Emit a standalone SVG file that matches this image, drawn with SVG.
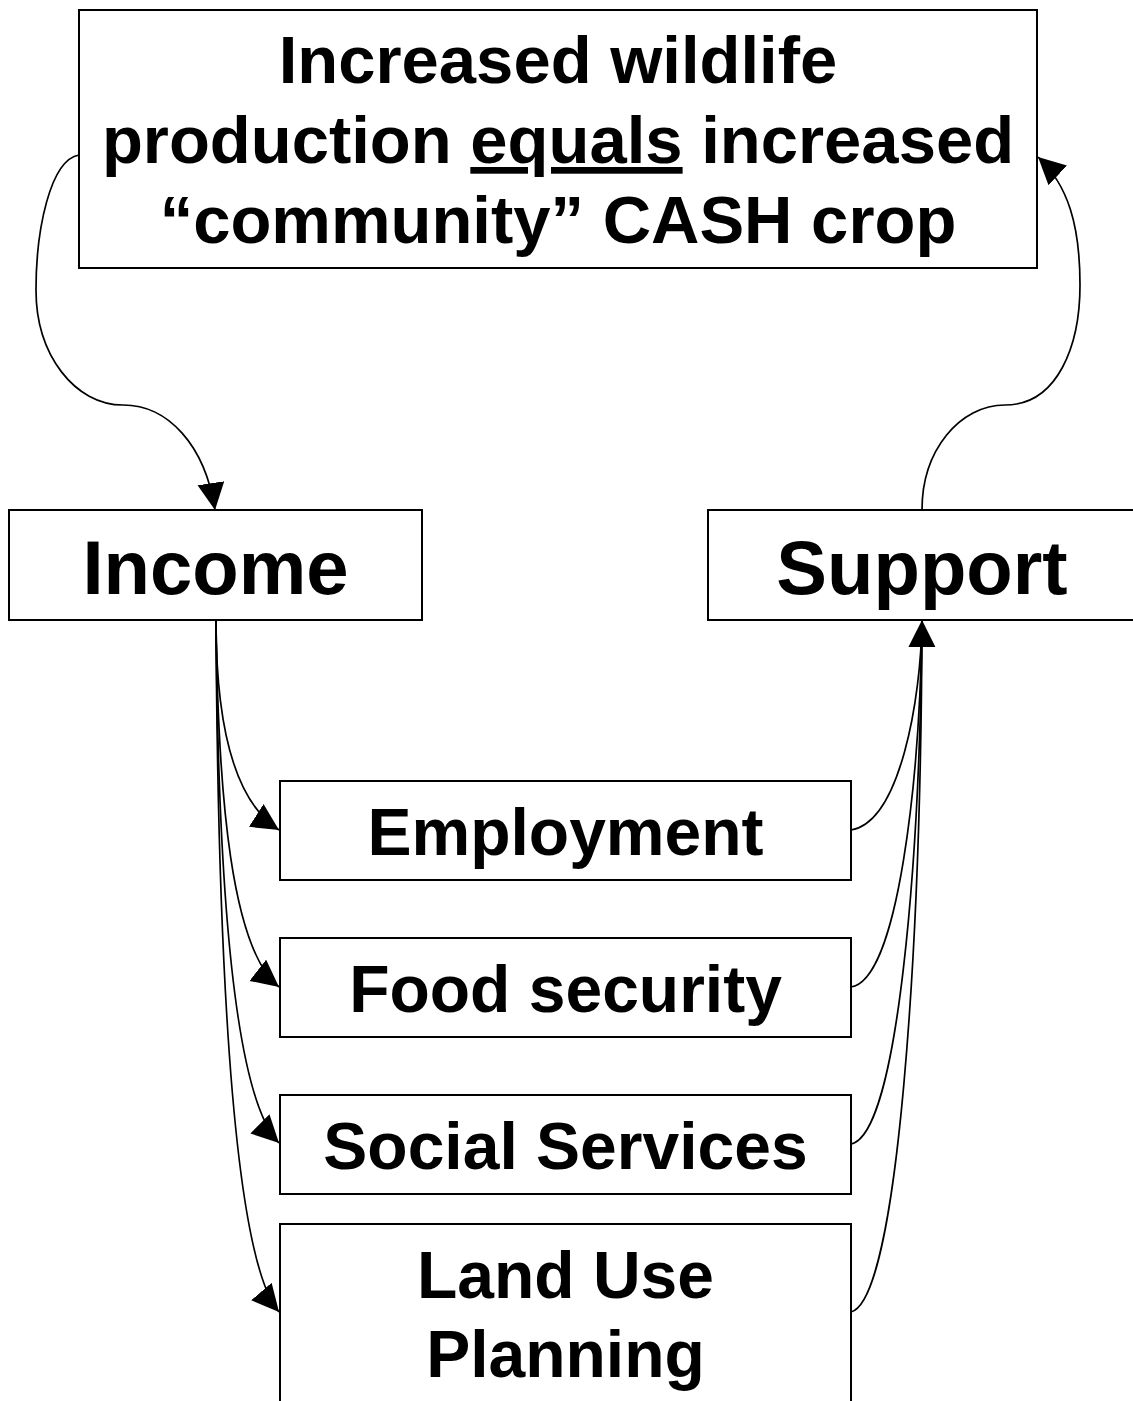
<svg xmlns="http://www.w3.org/2000/svg" width="1133" height="1401" viewBox="0 0 1133 1401">
  <style>
    .box { fill: #ffffff; stroke: #000000; stroke-width: 2; }
    .lbl { font-family: "Liberation Sans", Arial, sans-serif; font-weight: bold; fill: #000000; text-anchor: middle; }
    .t66 { font-size: 66px; }
    .t67 { font-size: 67px; }
    .t76 { font-size: 76px; }
    .conn { fill: none; stroke: #000000; stroke-width: 1.7; }
  </style>
  <defs>
    <marker id="arrow" markerUnits="userSpaceOnUse" markerWidth="28" markerHeight="28" refX="27" refY="13.5" orient="auto">
      <path d="M0,0 L27,13.5 L0,27 z" fill="#000000"/>
    </marker>
  </defs>
  <rect width="1133" height="1401" fill="#ffffff"/>

  <!-- connectors -->
  <g id="connectors">
    <!-- cash crop feeds income -->
    <path class="conn" d="M79,155 C50,160 36,230 36,290 C36,355 75,405 123,405 C168,405 205,445 215,510" marker-end="url(#arrow)"/>
    <!-- support loops back to cash crop -->
    <path class="conn" d="M922,510 C922,450 960,405 1005,405 C1058,405 1080,345 1080,285 C1080,225 1068,185 1038,157" marker-end="url(#arrow)"/>
    <!-- income branches -->
    <path class="conn" d="M216,620 C216,720 232,800 279,830" marker-end="url(#arrow)"/>
    <path class="conn" d="M216,620 C218,800 232,950 279,987" marker-end="url(#arrow)"/>
    <path class="conn" d="M216,620 C218,900 236,1100 279,1143" marker-end="url(#arrow)"/>
    <path class="conn" d="M216,620 C218,1000 236,1262 279,1312" marker-end="url(#arrow)"/>
    <!-- branches converging on support -->
    <path class="conn" d="M851,830 C900,822 921,700 922,620"/>
    <path class="conn" d="M851,987 C898,980 920,780 922,620"/>
    <path class="conn" d="M851,1144 C898,1135 920,860 922,620"/>
    <path class="conn" d="M851,1312 C898,1300 921,950 922,620" marker-end="url(#arrow)"/>
  </g>

  <g id="cash-crop">
    <rect class="box" x="79" y="10" width="958" height="258"/>
    <text class="lbl t67" x="558" y="83">Increased wildlife</text>
    <text class="lbl t67" x="558" y="163">production <tspan text-decoration="underline">equals</tspan> increased</text>
    <text class="lbl t67" x="558" y="243">“community” CASH crop</text>
  </g>

  <g id="income">
    <rect class="box" x="9" y="510" width="413" height="110"/>
    <text class="lbl t76" x="215.5" y="594">Income</text>
  </g>

  <g id="support">
    <rect class="box" x="708" y="510" width="440" height="110"/>
    <text class="lbl t76" x="922" y="594">Support</text>
  </g>

  <g id="employment">
    <rect class="box" x="280" y="781" width="571" height="99"/>
    <text class="lbl t66" x="565.5" y="855">Employment</text>
  </g>

  <g id="food-security">
    <rect class="box" x="280" y="938" width="571" height="99"/>
    <text class="lbl t66" x="565.5" y="1012">Food security</text>
  </g>

  <g id="social-services">
    <rect class="box" x="280" y="1095" width="571" height="99"/>
    <text class="lbl t66" x="565.5" y="1169">Social Services</text>
  </g>

  <g id="land-use-planning">
    <rect class="box" x="280" y="1224" width="571" height="200"/>
    <text class="lbl t66" x="565.5" y="1298">Land Use</text>
    <text class="lbl t66" x="565.5" y="1377">Planning</text>
  </g>
</svg>
